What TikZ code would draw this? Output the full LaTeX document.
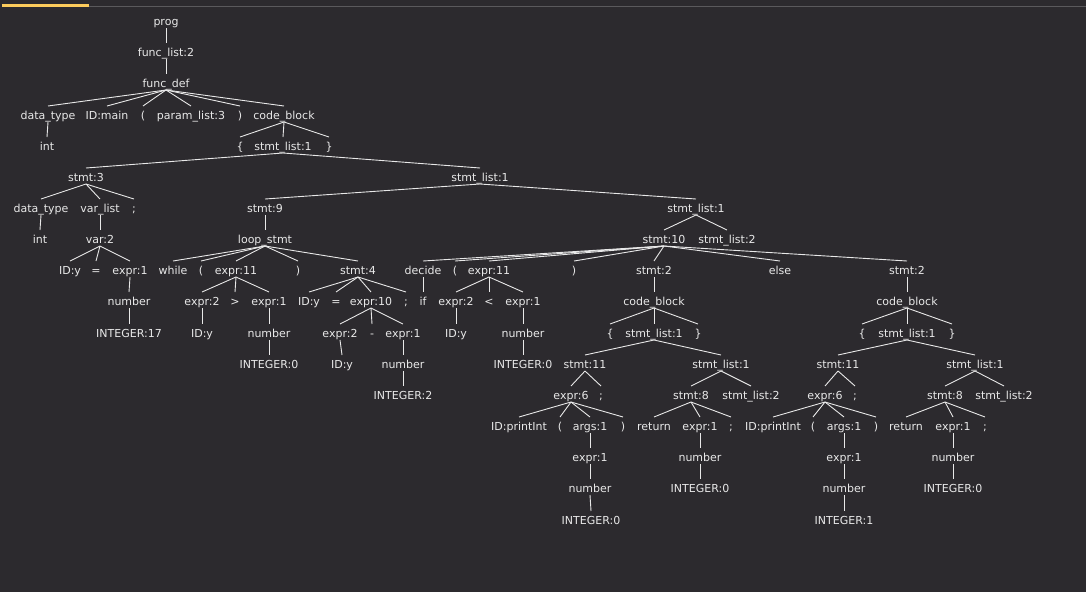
\documentclass[tikz,border=0pt]{standalone}
\usepackage{fontspec}
\setmainfont{DejaVu Sans}
\definecolor{bg}{HTML}{2C2A2E}
\definecolor{fg}{HTML}{E8E8E8}
\definecolor{bar}{HTML}{FCCB5C}
\definecolor{rule}{HTML}{5A595C}
\newcommand\N[4]{\node[t] (#1) at (#2,#3+4) {#4};}
\newcommand\E[2]{\draw[ln] ([yshift=-3pt]#1.base) -- ([yshift=13pt]#2.base);}
\newcommand\EE[2]{\foreach \c in {#2} {\E{#1}{\c}}}
\begin{document}
\begin{tikzpicture}[x=1pt,y=-1pt,
  t/.style={anchor=base,inner sep=0pt,text=fg,font=\fontsize{11}{13}\selectfont},
  ln/.style={draw=fg,line width=0.9pt}]
\fill[bg] (0,0) rectangle (1086,592);
\useasboundingbox (0,0) rectangle (1086,592);
\fill[rule] (89,5.5) rectangle (1086,7);
\fill[bar] (2,4) rectangle (89,7);
% L0-L2
\N{prog}{166}{21}{prog}
\N{fl}{166}{52}{func\_list:2}
\N{fd}{166}{83}{func\_def}
% L3
\N{dta}{48}{115}{data\_type}
\N{idm}{107}{115}{ID:main}
\N{lpa}{143}{115}{(}
\N{pl}{191}{115}{param\_list:3}
\N{rpa}{240}{115}{)}
\N{cba}{284}{115}{code\_block}
% L4
\N{inta}{47}{146}{int}
\N{lba}{240}{146}{\{}
\N{sla}{283}{146}{stmt\_list:1}
\N{rba}{329}{146}{\}}
% L5
\N{sthree}{86}{177}{stmt:3}
\N{slb}{480}{177}{stmt\_list:1}
% L6
\N{dtb}{41}{208}{data\_type}
\N{vl}{100}{208}{var\_list}
\N{sca}{134}{208}{;}
\N{snine}{265}{208}{stmt:9}
\N{slc}{696}{208}{stmt\_list:1}
% L7
\N{intb}{40}{239}{int}
\N{vtwo}{100}{239}{var:2}
\N{ls}{265}{239}{loop\_stmt}
\N{sten}{664}{239}{stmt:10}
\N{sld}{727}{239}{stmt\_list:2}
% L8
\N{idya}{70}{270}{ID:y}
\N{eqa}{96}{270}{=}
\N{ea}{130}{270}{expr:1}
\N{wh}{173}{270}{while}
\N{lpb}{201}{270}{(}
\N{elva}{236}{270}{expr:11}
\N{rpb}{298}{270}{)}
\N{sfour}{358}{270}{stmt:4}
\N{dec}{423}{270}{decide}
\N{lpc}{455}{270}{(}
\N{elvb}{489}{270}{expr:11}
\N{rpc}{574}{270}{)}
\N{stwa}{654}{270}{stmt:2}
\N{els}{780}{270}{else}
\N{stwb}{907}{270}{stmt:2}
% L9
\N{numa}{129}{301}{number}
\N{etwa}{202}{301}{expr:2}
\N{gt}{235}{301}{>}
\N{eb}{269}{301}{expr:1}
\N{idyb}{309}{301}{ID:y}
\N{eqb}{336}{301}{=}
\N{eten}{371}{301}{expr:10}
\N{scb}{406}{301}{;}
\N{iff}{423}{301}{if}
\N{etwb}{456}{301}{expr:2}
\N{lt}{489}{301}{<}
\N{ec}{523}{301}{expr:1}
\N{cbb}{654}{301}{code\_block}
\N{cbc}{907}{301}{code\_block}
% L10
\N{iseventeen}{129}{333}{INTEGER:17}
\N{idyc}{202}{333}{ID:y}
\N{numb}{269}{333}{number}
\N{etwc}{340}{333}{expr:2}
\N{mn}{372}{333}{-}
\N{ed}{403}{333}{expr:1}
\N{idyd}{456}{333}{ID:y}
\N{numc}{523}{333}{number}
\N{lbb}{610}{333}{\{}
\N{sle}{654}{333}{stmt\_list:1}
\N{rbb}{698}{333}{\}}
\N{lbc}{862}{333}{\{}
\N{slf}{907}{333}{stmt\_list:1}
\N{rbc}{952}{333}{\}}
% L11
\N{iza}{269}{364}{INTEGER:0}
\N{idye}{342}{364}{ID:y}
\N{numd}{403}{364}{number}
\N{izb}{523}{364}{INTEGER:0}
\N{selva}{585}{364}{stmt:11}
\N{slg}{721}{364}{stmt\_list:1}
\N{selvb}{838}{364}{stmt:11}
\N{slh}{975}{364}{stmt\_list:1}
% L12
\N{itwo}{403}{395}{INTEGER:2}
\N{esixa}{571}{395}{expr:6}
\N{scc}{601}{395}{;}
\N{seia}{691}{395}{stmt:8}
\N{sli}{751}{395}{stmt\_list:2}
\N{esixb}{825}{395}{expr:6}
\N{scd}{855}{395}{;}
\N{seib}{945}{395}{stmt:8}
\N{slj}{1004}{395}{stmt\_list:2}
% L13
\N{pia}{519}{426}{ID:printInt}
\N{lpd}{560}{426}{(}
\N{arga}{590}{426}{args:1}
\N{rpd}{623}{426}{)}
\N{reta}{654}{426}{return}
\N{ee}{700}{426}{expr:1}
\N{sce}{731}{426}{;}
\N{pib}{773}{426}{ID:printInt}
\N{lpe}{813}{426}{(}
\N{argb}{844}{426}{args:1}
\N{rpe}{876}{426}{)}
\N{retb}{906}{426}{return}
\N{ef}{953}{426}{expr:1}
\N{scf}{985}{426}{;}
% L14
\N{eg}{590}{457}{expr:1}
\N{nume}{700}{457}{number}
\N{eh}{844}{457}{expr:1}
\N{numf}{953}{457}{number}
% L15
\N{numg}{590}{488}{number}
\N{izc}{700}{488}{INTEGER:0}
\N{numh}{844}{488}{number}
\N{izd}{953}{488}{INTEGER:0}
% L16
\N{ize}{591}{520}{INTEGER:0}
\N{ione}{844}{520}{INTEGER:1}
% edges
\E{prog}{fl}
\E{fl}{fd}
\EE{fd}{dta,idm,lpa,pl,rpa,cba}
\E{dta}{inta}
\EE{cba}{lba,sla,rba}
\EE{sla}{sthree,slb}
\EE{sthree}{dtb,vl,sca}
\E{dtb}{intb}
\E{vl}{vtwo}
\EE{vtwo}{idya,eqa,ea}
\E{ea}{numa}
\E{numa}{iseventeen}
\EE{slb}{snine,slc}
\E{snine}{ls}
\EE{ls}{wh,lpb,elva,rpb,sfour}
\EE{elva}{etwa,gt,eb}
\E{etwa}{idyc}
\E{eb}{numb}
\E{numb}{iza}
\EE{sfour}{idyb,eqb,eten,scb}
\EE{eten}{etwc,mn,ed}
\E{etwc}{idye}
\E{ed}{numd}
\E{numd}{itwo}
\EE{slc}{sten,sld}
\EE{sten}{dec,lpc,elvb,rpc,stwa,els,stwb}
\E{dec}{iff}
\EE{elvb}{etwb,lt,ec}
\E{etwb}{idyd}
\E{ec}{numc}
\E{numc}{izb}
\E{stwa}{cbb}
\EE{cbb}{lbb,sle,rbb}
\EE{sle}{selva,slg}
\EE{selva}{esixa,scc}
\EE{esixa}{pia,lpd,arga,rpd}
\E{arga}{eg}
\E{eg}{numg}
\E{numg}{ize}
\EE{slg}{seia,sli}
\EE{seia}{reta,ee,sce}
\E{ee}{nume}
\E{nume}{izc}
\E{stwb}{cbc}
\EE{cbc}{lbc,slf,rbc}
\EE{slf}{selvb,slh}
\EE{selvb}{esixb,scd}
\EE{esixb}{pib,lpe,argb,rpe}
\E{argb}{eh}
\E{eh}{numh}
\E{numh}{ione}
\EE{slh}{seib,slj}
\EE{seib}{retb,ef,scf}
\E{ef}{numf}
\E{numf}{izd}
\end{tikzpicture}
\end{document}
